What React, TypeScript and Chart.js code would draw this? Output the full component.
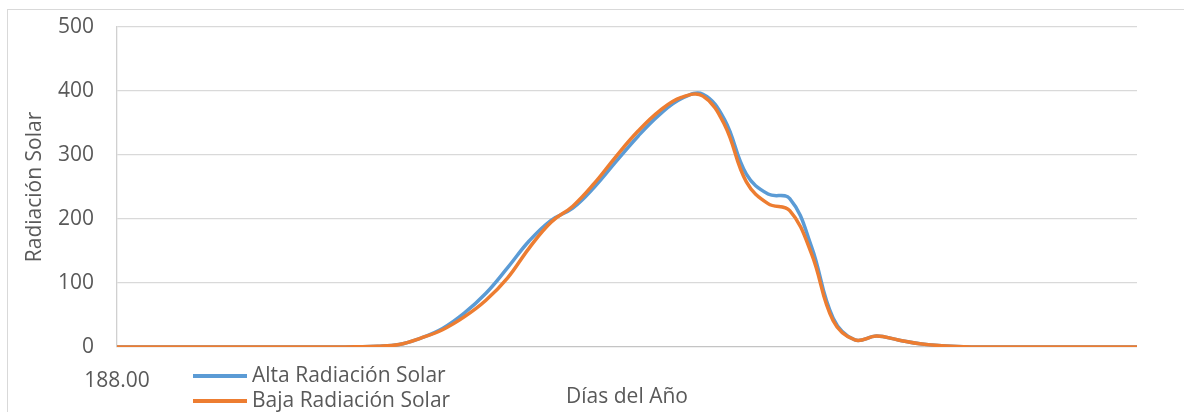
import { useEffect, useRef } from "react";
import { Chart, registerables } from "chart.js";

Chart.register(...registerables);

// Half-hourly steps of day 188
const dayLabels = [
  "188.00", "188.02", "188.04", "188.06", "188.08", "188.10", "188.13", "188.15",
  "188.17", "188.19", "188.21", "188.23", "188.25", "188.27", "188.29", "188.31",
  "188.33", "188.35", "188.38", "188.40", "188.42", "188.44", "188.46", "188.48",
  "188.50", "188.52", "188.54", "188.56", "188.58", "188.60", "188.63", "188.65",
  "188.67", "188.69", "188.71", "188.73", "188.75", "188.77", "188.79", "188.81",
  "188.83", "188.85", "188.88", "188.90", "188.92", "188.94", "188.96", "188.98",
];

const altaRadiacion = [
  0, 0, 0, 0, 0, 0, 0, 0, 0, 0, 0, 0.3, 1, 4, 14, 29,
  53, 84, 124, 166, 198, 217, 250, 290, 329, 363, 388, 395, 355, 270, 239, 232,
  157, 45, 11, 17, 11, 5, 2, 0.5, 0, 0, 0, 0, 0, 0, 0, 0,
];

const bajaRadiacion = [
  0, 0, 0, 0, 0, 0, 0, 0, 0, 0, 0, 0.3, 1, 4, 14, 27,
  47, 73, 108, 155, 195, 220, 256, 298, 337, 369, 390, 392, 347, 258, 224, 213,
  146, 41, 11, 17, 11, 5, 2, 0.5, 0, 0, 0, 0, 0, 0, 0, 0,
];

const seriesNames = ["Alta Radiación Solar", "Baja Radiación Solar"];
const seriesColors = ["#5B9BD5", "#ED7D31"];

const yMin = 0;
const yMax = 500;
const yStep = 100;

const FONT_FAMILY = '"Open Sans", "Noto Sans", sans-serif';
const TEXT_COLOR = "#595959";

// Legend stacked under the plot, at the lower-left corner
const stackedLegend = {
  id: "stackedLegend",
  afterDraw(chart: any) {
    const { ctx, chartArea } = chart;
    const x0 = chartArea.left + 76;
    chart.data.datasets.forEach((ds: any, i: number) => {
      const y = chartArea.bottom + 29 + i * 25;
      ctx.save();
      ctx.strokeStyle = ds.borderColor;
      ctx.lineWidth = 4;
      ctx.beginPath();
      ctx.moveTo(x0, y);
      ctx.lineTo(x0 + 54, y);
      ctx.stroke();
      ctx.fillStyle = TEXT_COLOR;
      ctx.font = `21px ${FONT_FAMILY}`;
      ctx.textBaseline = "middle";
      ctx.textAlign = "left";
      ctx.fillText(ds.label, x0 + 59, y);
      ctx.restore();
    });
  },
};

export default function App() {
  const canvasRef = useRef<HTMLCanvasElement | null>(null);

  useEffect(() => {
    if (!canvasRef.current) return;
    const chart = new Chart(canvasRef.current, {
      type: "line",
      data: {
        labels: dayLabels,
        datasets: [
          {
            label: seriesNames[0],
            data: altaRadiacion,
            borderColor: seriesColors[0],
            backgroundColor: seriesColors[0],
            borderWidth: 3.5,
            pointRadius: 0,
            tension: 0.4,
            order: 1,
          },
          {
            label: seriesNames[1],
            data: bajaRadiacion,
            borderColor: seriesColors[1],
            backgroundColor: seriesColors[1],
            borderWidth: 3.5,
            pointRadius: 0,
            tension: 0.4,
            order: 0,
          },
        ],
      },
      options: {
        animation: false,
        responsive: false,
        maintainAspectRatio: false,
        layout: { padding: { top: 27, right: 47, left: 0, bottom: 0 } },
        plugins: {
          legend: { display: false },
          tooltip: { enabled: false },
        },
        scales: {
          x: {
            type: "category",
            offset: false,
            grid: { display: false },
            border: { display: false },
            afterFit(scale: any) {
              scale.height = 65;
              scale.paddingLeft = 0;
              scale.paddingRight = 0;
            },
            ticks: {
              autoSkip: false,
              maxRotation: 0,
              padding: 13,
              color: TEXT_COLOR,
              font: { family: FONT_FAMILY, size: 21 },
              callback(this: any, value: any, index: number) {
                return index === 0 ? this.getLabelForValue(value) : "";
              },
            },
            title: {
              display: true,
              text: "Días del Año",
              color: TEXT_COLOR,
              font: { family: FONT_FAMILY, size: 21 },
              padding: { top: 0, bottom: 2 },
            },
          },
          y: {
            min: yMin,
            max: yMax,
            afterFit(scale: any) {
              scale.width = 117;
              scale.paddingTop = 0;
              scale.paddingBottom = 0;
            },
            grid: {
              drawTicks: false,
              lineWidth: 1.3,
              color: (ctx: any) => (ctx.tick && ctx.tick.value === 0 ? "#c4c4c4" : "#d9d9d9"),
            },
            border: { display: true, color: "#d0d0d0", width: 1.3 },
            ticks: {
              stepSize: yStep,
              padding: 23,
              color: TEXT_COLOR,
              font: { family: FONT_FAMILY, size: 21 },
            },
            title: {
              display: true,
              text: "Radiación Solar",
              color: TEXT_COLOR,
              font: { family: FONT_FAMILY, size: 21 },
              padding: { top: 22, bottom: 0 },
            },
          },
        },
      },
      plugins: [stackedLegend],
    });
    return () => chart.destroy();
  }, []);

  return (
    <div style={{ position: "absolute", left: 0, top: 0, width: 1184, height: 412, background: "#fff", overflow: "hidden" }}>
      <div
        style={{
          position: "absolute",
          left: 7,
          top: 9,
          right: -2,
          bottom: -2,
          borderTop: "1px solid #d9d9d9",
          borderLeft: "1px solid #d9d9d9",
        }}
      />
      <canvas ref={canvasRef} width={1184} height={412} style={{ position: "absolute", left: 0, top: 0 }} />
    </div>
  );
}
